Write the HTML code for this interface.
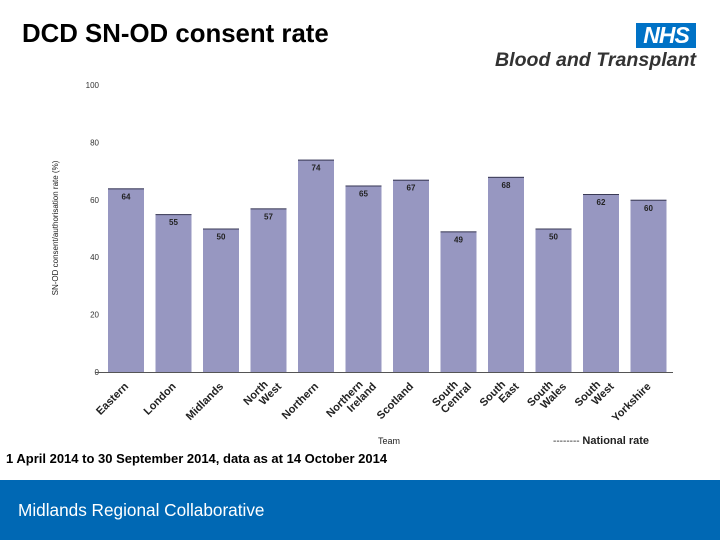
<!DOCTYPE html>
<html><head><meta charset="utf-8"><style>
body{margin:0;width:720px;height:540px;overflow:hidden;background:#fff;font-family:"Liberation Sans",Arial,sans-serif;position:relative}
.t{position:absolute;white-space:nowrap}
</style></head><body>
<div class="t" style="left:22px;top:20px;font-size:25.8px;font-weight:bold;color:#000">DCD SN-OD consent rate</div>
<div style="position:absolute;left:636px;top:23px;width:60px;height:25px;background:#0072c6;color:#fff;font-weight:bold;font-style:italic;font-size:23px;line-height:25px;text-align:center;letter-spacing:-1px">NHS</div>
<div class="t" style="left:495px;top:49px;font-size:19.6px;font-weight:bold;font-style:italic;color:#333">Blood and Transplant</div>
<svg id="c" width="720" height="540" style="position:absolute;left:0;top:0"></svg>
<div class="t" style="left:6px;top:451px;font-size:13px;font-weight:bold;color:#000">1 April 2014 to 30 September 2014, data as at 14 October 2014</div>
<div style="position:absolute;left:0;top:480px;width:720px;height:60px;background:#0068b4"></div>
<div class="t" style="left:18px;top:500px;font-size:17.2px;color:#fff">Midlands Regional Collaborative</div>
<script>
const categories=[["Eastern"],["London"],["Midlands"],["North","West"],["Northern"],["Northern","Ireland"],["Scotland"],["South","Central"],["South","East"],["South","Wales"],["South","West"],["Yorkshire"]];
const values=[64,55,50,57,74,65,67,49,68,50,62,60];
const ticks=[0,20,40,60,80,100];
const svg=document.getElementById('c');
const NS='http://www.w3.org/2000/svg';
const y0=372,y1=85,x0=103,pitch=47.5,bw=36;
const Y=v=>y0-(v/100)*(y0-y1);
const X=i=>x0+5+i*pitch;
function mk(t,a,txt){const e=document.createElementNS(NS,t);for(const k in a)e.setAttribute(k,a[k]);if(txt!=null)e.textContent=txt;svg.appendChild(e);return e;}
ticks.forEach(t=>{const e=mk('text',{x:99,y:Y(t)+3,'text-anchor':'end','font-size':8,fill:'#333'},t);

});
values.forEach((v,i)=>{
const r=mk('rect',{x:X(i),y:Y(v),width:bw,height:y0-Y(v),fill:'#9797c1'});


mk('line',{x1:X(i),x2:X(i)+bw,y1:Y(v)+0.5,y2:Y(v)+0.5,stroke:'#3a3a55','stroke-width':1});
const l=mk('text',{x:X(i)+bw/2,y:Y(v)+11,'text-anchor':'middle','font-size':8,'font-weight':'bold',fill:'#222'},v);


const g=mk('text',{transform:`translate(${X(i)+bw/2+3},${y0+15}) rotate(-45)`,'text-anchor':'end','font-size':11,'font-weight':'bold',fill:'#222'});


categories[i].forEach((w,j)=>{const ts=document.createElementNS(NS,'tspan');ts.setAttribute('x',0);ts.setAttribute('dy',j?11:0);ts.setAttribute('dx',j?8:0);ts.textContent=w;g.appendChild(ts);});
if(categories[i].length>1){g.setAttribute('transform',`translate(${X(i)+bw/2},${y0+13}) rotate(-45)`);}
});
const ax=mk('line',{x1:95,x2:673,y1:y0+0.5,y2:y0+0.5,stroke:'#555'});


const yt=mk('text',{transform:'translate(58,228) rotate(-90)','text-anchor':'middle','font-size':8,fill:'#222'},'SN-OD consent/authorisation rate (%)');


const xt=mk('text',{x:389,y:444,'text-anchor':'middle','font-size':9,fill:'#222'},'Team');


const lg=mk('text',{x:553,y:444,'font-size':10,fill:'#222'},'-------- ');


const ls=document.createElementNS(NS,'tspan');ls.setAttribute('font-weight','bold');ls.setAttribute('font-size','11');ls.textContent='National rate';lg.appendChild(ls);
</script>
</body></html>
